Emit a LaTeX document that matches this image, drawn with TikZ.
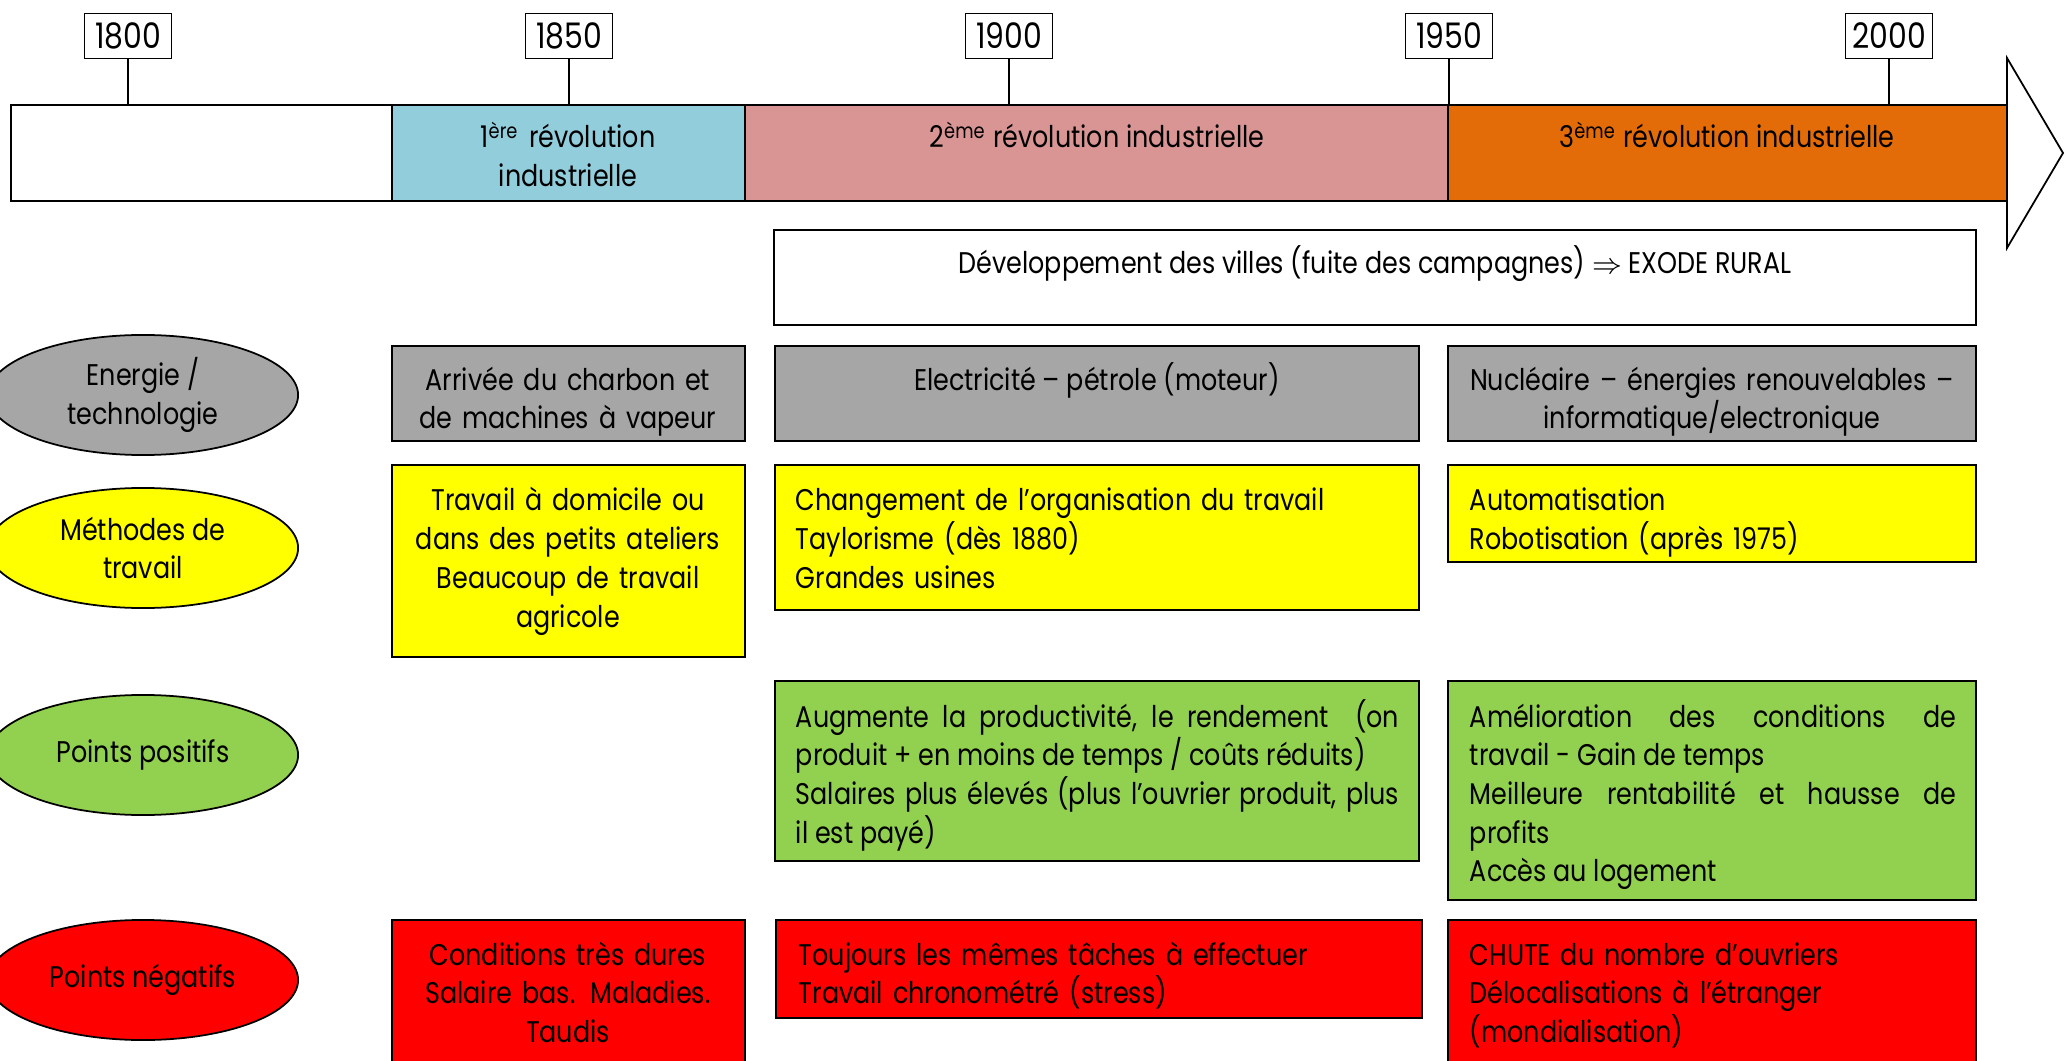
\documentclass[tikz,border=0pt]{standalone}
\usepackage{fontspec}
\setmainfont{Poppins}[FakeStretch=0.85]
\usetikzlibrary{shapes.geometric}
\definecolor{bleu}{HTML}{92CDDC}
\definecolor{rose}{HTML}{D99594}
\definecolor{orangefonce}{HTML}{E36C09}
\definecolor{gris}{HTML}{A6A6A6}
\definecolor{jaune}{HTML}{FFFF00}
\definecolor{vert}{HTML}{92D050}
\definecolor{rouge}{HTML}{FF0000}

\begin{document}
\begin{tikzpicture}[x=0.01cm,y=-0.01cm,line width=0.5pt,
        txt/.style={inner sep=0pt,font=\fontsize{8.5}{11}\selectfont},
        year/.style={draw,fill=white,minimum width=0.87cm,minimum height=0.45cm,inner sep=0pt,font=\fontsize{10}{11}\selectfont},
        theme/.style={draw,ellipse,minimum width=3.1cm,minimum height=1.2cm,inner sep=0pt,align=center,font=\fontsize{8.5}{11}\selectfont}]
        \useasboundingbox (0,0) rectangle (2070,1061);
        \clip (0,0) rectangle (2070,1061);

        \coordinate (bartop) at (0,105);

        \draw[fill=white] (2007,58) -- (2063,153) -- (2007,248) -- cycle;
        \draw[fill=white] (11,105) rectangle (392,201);
        \draw[fill=bleu] (392,105) rectangle (745,201);
        \draw[fill=rose] (745,105) rectangle (1448,201);
        \draw[fill=orangefonce] (1448,105) rectangle (2007,201);

        \node[year] (y1800) at (128,36) {1800};
        \node[year] (y1850) at (569,36) {1850};
        \node[year] (y1900) at (1009,36) {1900};
        \node[year] (y1950) at (1449,36) {1950};
        \node[year] (y2000) at (1889,36) {2000};
        \draw (y1800.south) -- (y1800.south |- bartop);
        \draw (y1850.south) -- (y1850.south |- bartop);
        \draw (y1900.south) -- (y1900.south |- bartop);
        \draw (y1950.south) -- (y1950.south |- bartop);
        \draw (y2000.south) -- (y2000.south |- bartop);

        \node[txt,text width=3.3cm,align=center,anchor=base] (rev1) at (568,148) {1\textsuperscript{ère} révolution\\industrielle};
        \node[txt,anchor=base] (rev2) at (1097,148) {2\textsuperscript{ème} révolution industrielle};
        \node[txt,anchor=base] (rev3) at (1727,148) {3\textsuperscript{ème} révolution industrielle};

        \draw (774,230) rectangle (1976,325);
        \node[txt,anchor=base] (exode) at (1375,274) {Développement des villes (fuite des campagnes) $\Rightarrow$ EXODE RURAL};

        \node[theme,fill=gris] (energie) at (143,395) {Energie /\\technologie};
        \node[theme,fill=jaune] (methodes) at (143,548) {Méthodes de\\travail};
        \node[theme,fill=vert] (positifs) at (143,755) {Points positifs};
        \node[theme,fill=rouge] (negatifs) at (143,980) {Points négatifs};

        \draw[fill=gris] (392,346) rectangle (745,441);
        \draw[fill=gris] (775,346) rectangle (1419,441);
        \draw[fill=gris] (1448,346) rectangle (1976,441);
        \node[txt,text width=3.3cm,align=center,anchor=base] (tech1) at (568,390) {Arrivée du charbon et\\de machines à vapeur};
        \node[txt,anchor=base] (tech2) at (1097,390) {Electricité – pétrole (moteur)};
        \node[txt,text width=5cm,align=center,anchor=base] (tech3) at (1712,390) {Nucléaire – énergies renouvelables –\\informatique/electronique};

        \draw[fill=jaune] (392,465) rectangle (745,657);
        \draw[fill=jaune] (775,465) rectangle (1419,610);
        \draw[fill=jaune] (1448,465) rectangle (1976,562);
        \node[txt,text width=3.3cm,align=center,anchor=base] (meth1) at (568,511) {Travail à domicile ou\\dans des petits ateliers\\Beaucoup de travail\\agricole};
        \node[txt,text width=6cm,align=left,anchor=base west] (meth2) at (795,511) {Changement de l’organisation du travail\\Taylorisme (dès 1880)\\Grandes usines};
        \node[txt,text width=4.8cm,align=left,anchor=base west] (meth3) at (1469,511) {Automatisation\\Robotisation (après 1975)};

        \draw[fill=vert] (775,681) rectangle (1419,861);
        \draw[fill=vert] (1448,681) rectangle (1976,900);
        \node[txt,text width=6.03cm,align=justify,anchor=base west] (pos2) at (795,727) {Augmente la productivité, le rendement~ (on\linebreak produit + en moins de temps / coûts réduits)\\Salaires plus élevés (plus l’ouvrier produit, plus\linebreak il est payé)};
        \node[txt,text width=4.86cm,align=justify,anchor=base west] (pos3) at (1469,727) {Amélioration des conditions de\linebreak travail - Gain de temps\\Meilleure rentabilité et hausse de\linebreak profits\\Accès au logement};

        \draw[fill=rouge] (392,920) rectangle (745,1080);
        \draw[fill=rouge] (776,920) rectangle (1422,1018);
        \draw[fill=rouge] (1448,920) rectangle (1976,1080);
        \node[txt,text width=3.3cm,align=center,anchor=base] (neg1) at (568,965) {Conditions très dures\\Salaire bas. Maladies.\\Taudis};
        \node[txt,text width=6cm,align=left,anchor=base west] (neg2) at (798,965) {Toujours les mêmes tâches à effectuer\\Travail chronométré (stress)};
        \node[txt,text width=4.8cm,align=left,anchor=base west] (neg3) at (1469,965) {CHUTE du nombre d’ouvriers\\Délocalisations à l’étranger\\(mondialisation)};
\end{tikzpicture}
\end{document}
